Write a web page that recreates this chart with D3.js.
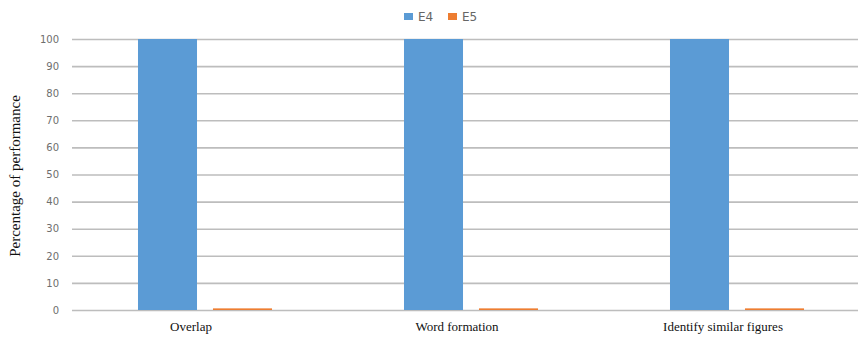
<!DOCTYPE html>
<html>
<head>
<meta charset="utf-8">
<script src="https://cdn.jsdelivr.net/npm/d3@7"></script>
<style>
  body { margin: 0; background: #fff; }
</style>
</head>
<body>
<div id="chart"></div>
<script>
// chart data
var categories = ["Overlap", "Word formation", "Identify similar figures"];
var seriesNames = ["E4", "E5"];
var e4Values = [100, 100, 100];
var e5Values = [0.6, 0.6, 0.6];
var yTicks = [0, 10, 20, 30, 40, 50, 60, 70, 80, 90, 100];

var colors = {E4: "#5b9bd5", E5: "#ed7d31"};

// dimensions
var W = 861, H = 337;
var margin = {top: 39, right: 3, bottom: 27, left: 72},
    width = W - margin.left - margin.right,
    height = H - margin.top - margin.bottom;

var svg = d3.select("#chart")
  .append("svg")
    .attr("width", W)
    .attr("height", H);

var g = svg.append("g")
    .attr("transform", "translate(" + margin.left + "," + margin.top + ")");

// build rows from the arrays
var rows = categories.map(function(c, i) {
    return {cat: c, E4: e4Values[i], E5: e5Values[i]};
});

// scales (last band runs a bit past the plot edge, like the original)
var x0 = d3.scaleBand()
    .domain(categories)
    .range([0, 798]);

var x1 = d3.scaleBand()
    .domain(seriesNames)
    .range([0, x0.bandwidth()])
    .paddingInner(0.213)
    .paddingOuter(0.88);

var y = d3.scaleLinear()
    .domain([0, 100])
    .range([height, 0]);

// gridlines + y labels
var yAxis = g.append("g")
    .call(d3.axisLeft(y).tickValues(yTicks).tickSize(-width).tickPadding(13));
yAxis.select(".domain").remove();
yAxis.selectAll(".tick line")
    .attr("stroke", "#bdbdbd")
    .attr("stroke-width", 1.6);
yAxis.selectAll(".tick text")
    .attr("fill", "#6e6e6e")
    .style("font-family", "DejaVu Sans, sans-serif")
    .style("font-size", "10px");

// bars
var groups = g.selectAll(".grp")
    .data(rows)
    .enter().append("g")
    .attr("class", "grp")
    .attr("transform", function(d) { return "translate(" + x0(d.cat) + ",0)"; });

groups.selectAll("rect")
    .data(function(d) { return seriesNames.map(function(k) { return {key: k, value: d[k]}; }); })
    .enter().append("rect")
    .attr("x", function(d) { return x1(d.key); })
    .attr("y", function(d) { return y(d.value); })
    .attr("width", x1.bandwidth())
    .attr("height", function(d) { return height - y(d.value); })
    .style("fill", function(d) { return colors[d.key]; });

// x labels
var xAxis = g.append("g")
    .attr("transform", "translate(0," + height + ")")
    .call(d3.axisBottom(x0).tickSize(0).tickPadding(12));
xAxis.select(".domain").remove();
xAxis.selectAll(".tick text")
    .attr("dx", -14)
    .attr("fill", "#111")
    .style("font-family", "Liberation Serif, Times New Roman, serif")
    .style("font-size", "13px");

// y title
svg.append("text")
    .attr("text-anchor", "middle")
    .attr("transform", "translate(20," + 176 + ") rotate(-90)")
    .style("font-family", "Liberation Serif, Times New Roman, serif")
    .style("font-size", "15px")
    .attr("fill", "#111")
    .text("Percentage of performance");

// legend
var legend = svg.append("g")
    .attr("transform", "translate(404,13)");
var legX = [0, 44];
seriesNames.forEach(function(k, i) {
    legend.append("rect")
        .attr("x", legX[i])
        .attr("y", 0)
        .attr("width", 9)
        .attr("height", 7)
        .style("fill", colors[k]);
    legend.append("text")
        .attr("x", legX[i] + 14)
        .attr("y", 4)
        .attr("dy", "0.35em")
        .attr("fill", "#666")
        .style("font-family", "DejaVu Sans, sans-serif")
        .style("font-size", "12px")
        .text(k);
});
</script>
</body>
</html>
